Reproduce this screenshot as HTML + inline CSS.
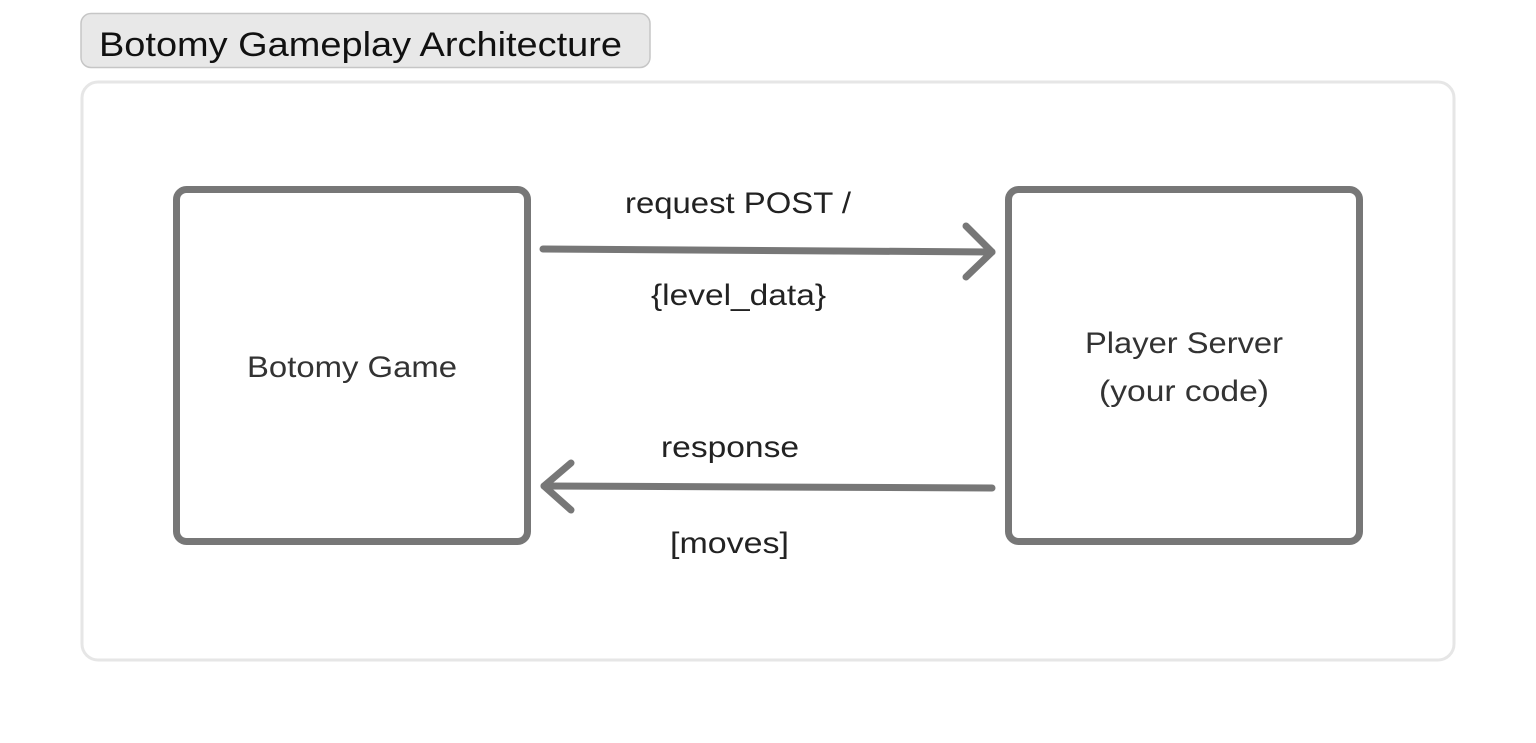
<!DOCTYPE html>
<html><head><meta charset="utf-8"><style>
html,body{margin:0;padding:0;background:#fff;width:1536px;height:743px;overflow:hidden}
svg text{font-family:"Liberation Sans",sans-serif}
</style></head><body>
<svg width="1536" height="743" viewBox="0 0 1536 743" xmlns="http://www.w3.org/2000/svg">
<rect x="81" y="13.5" width="569" height="54" rx="10" fill="#e8e8e8" stroke="#c6c6c6" stroke-width="1.5"/>
<text x="99" y="56" font-size="34" fill="#111" textLength="523" lengthAdjust="spacingAndGlyphs">Botomy Gameplay Architecture</text>
<rect x="82" y="82" width="1372" height="578" rx="16" fill="#fff" stroke="#e6e6e6" stroke-width="3"/>
<rect x="176.5" y="189.5" width="351" height="352" rx="10" fill="none" stroke="#777" stroke-width="7"/>
<rect x="1008.5" y="189.5" width="351" height="352" rx="10" fill="none" stroke="#777" stroke-width="7"/>
<g stroke="#777" stroke-width="7" stroke-linecap="round" stroke-linejoin="round" fill="none">
<line x1="543" y1="249" x2="992" y2="252"/>
<polyline points="966,226 992,252 966,277"/>
<line x1="992" y1="488" x2="544" y2="486"/>
<polyline points="571,463 544,486 571,510"/>
</g>
<g font-size="30" fill="#222" lengthAdjust="spacingAndGlyphs">
<text x="625" y="213" textLength="226" lengthAdjust="spacingAndGlyphs">request POST /</text>
<text x="651" y="305" textLength="175" lengthAdjust="spacingAndGlyphs">{level_data}</text>
<text x="661" y="457" textLength="138" lengthAdjust="spacingAndGlyphs">response</text>
<text x="670" y="553" textLength="119" lengthAdjust="spacingAndGlyphs">[moves]</text>
</g>
<g font-size="30" fill="#333">
<text x="247" y="377" textLength="210" lengthAdjust="spacingAndGlyphs">Botomy Game</text>
<text x="1085" y="353" textLength="198" lengthAdjust="spacingAndGlyphs">Player Server</text>
<text x="1099" y="401" textLength="170" lengthAdjust="spacingAndGlyphs">(your code)</text>
</g>
</svg>
</body></html>
